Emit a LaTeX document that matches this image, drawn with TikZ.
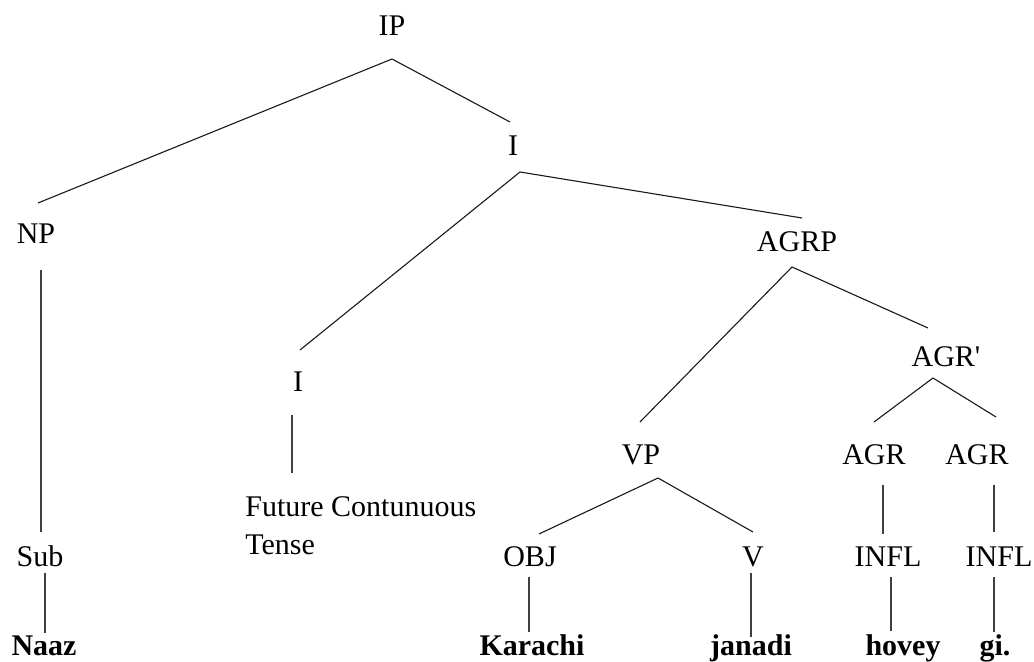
\documentclass[tikz,border=0pt]{standalone}
\usepackage{fontspec}
\setmainfont{Liberation Serif}
\usetikzlibrary{calc}
\tikzset{
  lbl/.style={anchor=base, inner sep=0pt, font=\fontsize{15}{18}\selectfont},
  word/.style={lbl, font=\fontsize{15}{18}\selectfont\bfseries},
  branch/.style={draw=black!90, line width=0.55pt},
  stem/.style={draw=black!75, line width=0.85pt}
}
\begin{document}
\begin{tikzpicture}[x=0.5pt, y=-0.5pt]
\useasboundingbox (0,0) rectangle (1034,662);

% category labels
\node[lbl] (IP)    at (392,36)  {IP};
\node[lbl] (I1)    at (513,156) {I};
\node[lbl] (NP)    at (36,244)  {NP};
\node[lbl] (AGRP)  at (797,252) {AGRP};
\node[lbl] (AGRb)  at (946,367) {AGR\textquotesingle};
\node[lbl] (I2)    at (298,392) {I};
\node[lbl] (VP)    at (641,465) {VP};
\node[lbl] (AGR1)  at (874,465) {AGR};
\node[lbl] (AGR2)  at (977,465) {AGR};
\node[lbl, anchor=base west] (Fut)   at (245,517) {Future Contunuous};
\node[lbl, anchor=base west] (Tense) at (245,555) {Tense};
\node[lbl] (Sub)   at (40,567)  {Sub};
\node[lbl] (OBJ)   at (530,567) {OBJ};
\node[lbl] (V)     at (753,567) {V};
\node[lbl] (INFL1) at (888,567) {INFL};
\node[lbl] (INFL2) at (999,567) {INFL};

% words of the sentence
\node[word] (Naaz)    at (44,655)  {Naaz};
\node[word] (Karachi) at (532,655) {Karachi};
\node[word] (janadi)  at (751,655) {janadi};
\node[word] (hovey)   at (903,655) {hovey};
\node[word] (gi)      at (995,655) {gi.};

% slanted branches
\draw[branch] ($(IP.base)+(0,23)$)     -- ($(NP.base)+(2,-41)$);
\draw[branch] ($(IP.base)+(0,23)$)     -- ($(I1.base)+(-3,-34)$);
\draw[branch] ($(I1.base)+(7,16)$)     -- ($(I2.base)+(2,-42)$);
\draw[branch] ($(I1.base)+(7,16)$)     -- ($(AGRP.base)+(5,-34)$);
\draw[branch] ($(AGRP.base)+(-5,15)$)  -- ($(VP.base)+(-1,-43)$);
\draw[branch] ($(AGRP.base)+(-5,15)$)  -- ($(AGRb.base)+(-18,-39)$);
\draw[branch] ($(AGRb.base)+(-13,11)$) -- ($(AGR1.base)+(0,-43)$);
\draw[branch] ($(AGRb.base)+(-13,11)$) -- ($(AGR2.base)+(19,-48)$);
\draw[branch] ($(VP.base)+(17,13)$)    -- ($(OBJ.base)+(9,-33)$);
\draw[branch] ($(VP.base)+(17,13)$)    -- ($(V.base)+(0,-35)$);

% vertical stems
\draw[stem] ($(NP.base)+(5,26)$)     -- ($(Sub.base)+(1,-35)$);
\draw[stem] ($(I2.base)+(-6,23)$)    -- ($(Fut.base west)+(47,-44)$);
\draw[stem] ($(AGR1.base)+(9,20)$)   -- ($(INFL1.base)+(-5,-33)$);
\draw[stem] ($(AGR2.base)+(17,20)$)  -- ($(INFL2.base)+(-5,-35)$);
\draw[stem] ($(Sub.base)+(5,6)$)     -- ($(Naaz.base)+(1,-22)$);
\draw[stem] ($(OBJ.base)+(-1,10)$)   -- ($(Karachi.base)+(-3,-23)$);
\draw[stem] ($(V.base)+(-2,6)$)      -- ($(janadi.base)+(0,-18)$);
\draw[stem] ($(INFL1.base)+(3,10)$)  -- ($(hovey.base)+(-12,-24)$);
\draw[stem] ($(INFL2.base)+(-5,10)$) -- ($(gi.base)+(-1,-23)$);
\end{tikzpicture}
\end{document}
